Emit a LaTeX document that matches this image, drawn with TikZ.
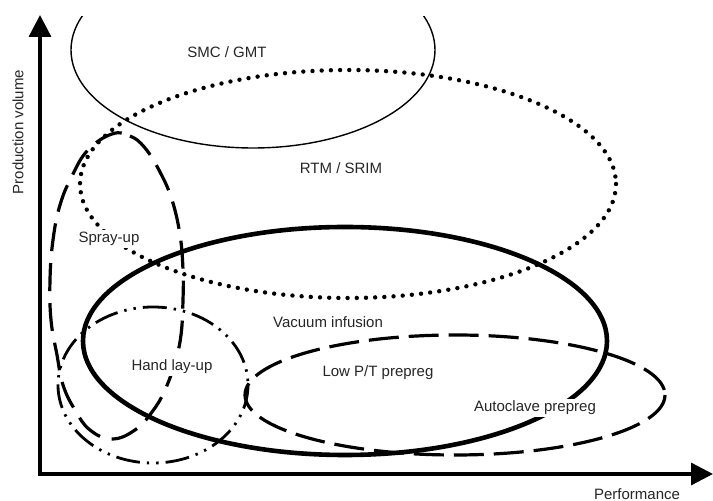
\documentclass[tikz,border=0pt]{standalone}
\usepackage{fontspec}
\setmainfont{Liberation Sans}
\usetikzlibrary{arrows.meta}

\begin{document}
\begin{tikzpicture}[
  x=0.5pt, y=-0.5pt,
  ax/.style={line width=1.7pt,
             {Triangle[length=11pt,width=11pt]}-{Triangle[length=11pt,width=11pt]}},
  lbl/.style={font=\fontsize{7.5}{9}\selectfont, text=black!85,
              fill=white, inner sep=1pt},
  smc/.style={line width=0.7pt},
  rtm/.style={line width=2.2pt, line cap=round, dash pattern=on 0pt off 4.6pt},
  vac/.style={line width=2.3pt},
  spray/.style={line width=1.6pt, dash pattern=on 14pt off 6pt},
  hand/.style={line width=1.4pt,
               dash pattern=on 12pt off 3.5pt on 1.2pt off 3.5pt on 1.2pt off 3.5pt},
  preg/.style={line width=1.6pt, dash pattern=on 15pt off 5pt},
]
\useasboundingbox (0,0) rectangle (713,501);

% Axes
\coordinate (O)    at (40,474);
\coordinate (ytop) at (40,15);
\coordinate (xend) at (713,474);
\draw[ax] (ytop) -- (O) -- (xend);

% Process regions
\begin{scope}
  \clip (0,17) rectangle (713,501);
  \draw[smc] (253,50) ellipse [x radius=182, y radius=98];
\end{scope}
\draw[rtm]  (348,184) ellipse [x radius=268, y radius=114];
\draw[vac]  (345,341) ellipse [x radius=262, y radius=114];
\draw[hand] (153,385) ellipse [x radius=95, y radius=78];
\draw[preg] (455,395) ellipse [x radius=210, y radius=60];
\draw[spray] plot[smooth cycle, tension=0.7] coordinates {
  (112,134) (130,136) (145,148) (160,172) (172,200) (180,235)
  (183,270) (183,300) (181,335) (175,362) (165,390) (152,412)
  (135,430) (112,439) (90,430) (75,410) (63,385) (57,355)
  (51,320) (50,280) (53,240) (60,205) (72,176) (88,150)};

% Labels
\node[lbl] (smcl) at (227,52)  {SMC / GMT};
\node[lbl] (rtml) at (341,168) {RTM / SRIM};
\node[lbl] (sprl) at (109,239) {Spray-up};
\node[lbl] (vacl) at (328,322) {Vacuum infusion};
\node[lbl] (hndl) at (172,367) {Hand lay-up};
\node[lbl] (lptl) at (378,373) {Low P/T prepreg};
\node[lbl] (acpl) at (535,408) {Autoclave prepreg};
\node[lbl, rotate=90] (yax) at (18,132) {Production volume};
\node[lbl] (xax) at (637,494) {Performance};
\end{tikzpicture}
\end{document}
